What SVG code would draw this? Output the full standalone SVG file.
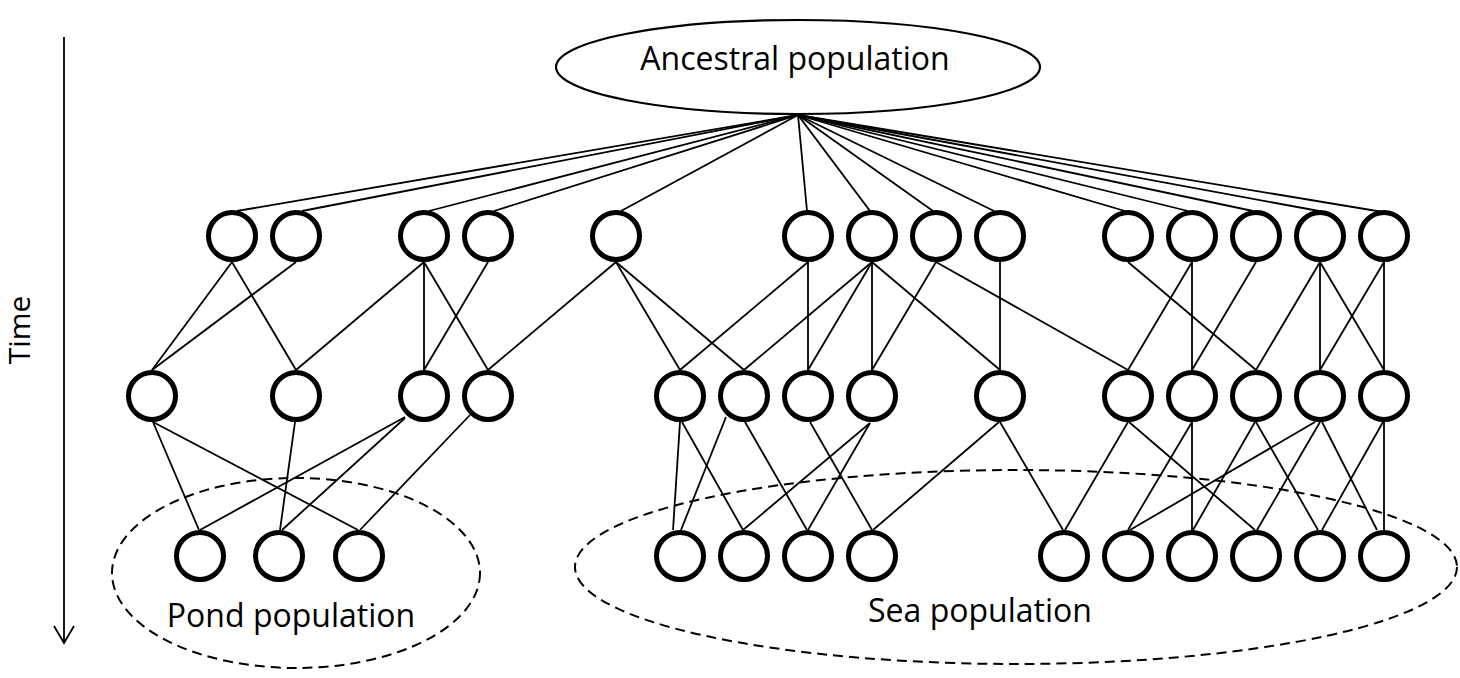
<svg xmlns="http://www.w3.org/2000/svg" width="1460" height="678" viewBox="0 0 1460 678">
<style>
.n{fill:#fff;stroke:#000;stroke-width:5}
.c line{stroke:#000;stroke-width:1.8}
.d{fill:none;stroke:#000;stroke-width:2;stroke-dasharray:10 6}
.t{font-family:"Open Sans","Liberation Sans",sans-serif;font-size:32px;fill:#000;text-anchor:middle}
</style>
<rect width="1460" height="678" fill="#fff"/>
<g id="time-axis">
<line x1="64" y1="37" x2="64" y2="643" stroke="#000" stroke-width="1.8"/>
<polyline points="54,626 64,643 74,626" fill="none" stroke="#000" stroke-width="1.8"/>
<text class="t" transform="translate(30,330) rotate(-90)" style="font-size:30px">Time</text>
</g>
<g id="pond-population">
<ellipse class="d" cx="296" cy="573" rx="184" ry="95"/>
<text class="t" x="291" y="627">Pond population</text>
</g>
<g id="sea-population">
<ellipse class="d" cx="1016" cy="567" rx="441" ry="97"/>
<text class="t" x="980" y="622">Sea population</text>
</g>
<g id="connectors" class="c">
<line x1="798" y1="115" x2="237" y2="211"/>
<line x1="798" y1="115" x2="302" y2="211"/>
<line x1="798" y1="115" x2="429" y2="211"/>
<line x1="798" y1="115" x2="494" y2="211"/>
<line x1="798" y1="115" x2="621" y2="211"/>
<line x1="798" y1="115" x2="807" y2="211"/>
<line x1="798" y1="115" x2="870" y2="211"/>
<line x1="798" y1="115" x2="933" y2="211"/>
<line x1="798" y1="115" x2="994" y2="211"/>
<line x1="798" y1="115" x2="1125" y2="211"/>
<line x1="798" y1="115" x2="1188" y2="211"/>
<line x1="798" y1="115" x2="1253" y2="211"/>
<line x1="798" y1="115" x2="1319" y2="211"/>
<line x1="798" y1="115" x2="1395" y2="214"/>
<line x1="232" y1="262" x2="152" y2="370"/>
<line x1="232" y1="262" x2="296" y2="370"/>
<line x1="296" y1="262" x2="152" y2="370"/>
<line x1="424" y1="262" x2="296" y2="370"/>
<line x1="424" y1="262" x2="424" y2="370"/>
<line x1="424" y1="262" x2="488" y2="370"/>
<line x1="488" y1="262" x2="424" y2="370"/>
<line x1="616" y1="262" x2="488" y2="370"/>
<line x1="616" y1="262" x2="680" y2="370"/>
<line x1="616" y1="262" x2="744" y2="370"/>
<line x1="808" y1="262" x2="680" y2="370"/>
<line x1="808" y1="262" x2="808" y2="370"/>
<line x1="872" y1="262" x2="744" y2="370"/>
<line x1="872" y1="262" x2="808" y2="370"/>
<line x1="872" y1="262" x2="872" y2="370"/>
<line x1="872" y1="262" x2="1000" y2="370"/>
<line x1="936" y1="262" x2="872" y2="370"/>
<line x1="936" y1="262" x2="1128" y2="370"/>
<line x1="1000" y1="262" x2="1000" y2="370"/>
<line x1="1128" y1="262" x2="1256" y2="370"/>
<line x1="1192" y1="262" x2="1128" y2="370"/>
<line x1="1192" y1="262" x2="1192" y2="370"/>
<line x1="1256" y1="262" x2="1192" y2="370"/>
<line x1="1320" y1="262" x2="1256" y2="370"/>
<line x1="1320" y1="262" x2="1320" y2="370"/>
<line x1="1320" y1="262" x2="1384" y2="370"/>
<line x1="1384" y1="262" x2="1320" y2="370"/>
<line x1="1384" y1="262" x2="1384" y2="370"/>
<line x1="153" y1="422" x2="199" y2="530"/>
<line x1="153" y1="422" x2="358" y2="530"/>
<line x1="295" y1="422" x2="280" y2="530"/>
<line x1="405" y1="417" x2="200" y2="530"/>
<line x1="405" y1="418" x2="282" y2="530"/>
<line x1="470" y1="415" x2="360" y2="530"/>
<line x1="680" y1="422" x2="673" y2="530"/>
<line x1="682" y1="422" x2="743" y2="530"/>
<line x1="726" y1="417" x2="681" y2="530"/>
<line x1="745" y1="422" x2="807" y2="530"/>
<line x1="810" y1="422" x2="872" y2="530"/>
<line x1="870" y1="423" x2="743" y2="530"/>
<line x1="870" y1="423" x2="808" y2="530"/>
<line x1="999" y1="422" x2="873" y2="530"/>
<line x1="1000" y1="422" x2="1063" y2="530"/>
<line x1="1128" y1="422" x2="1065" y2="530"/>
<line x1="1129" y1="422" x2="1255" y2="530"/>
<line x1="1192" y1="422" x2="1128" y2="530"/>
<line x1="1192" y1="422" x2="1192" y2="530"/>
<line x1="1255" y1="422" x2="1193" y2="530"/>
<line x1="1256" y1="422" x2="1318" y2="530"/>
<line x1="1315" y1="422" x2="1130" y2="530"/>
<line x1="1320" y1="422" x2="1257" y2="530"/>
<line x1="1322" y1="422" x2="1377" y2="530"/>
<line x1="1383" y1="422" x2="1322" y2="530"/>
<line x1="1384" y1="422" x2="1384" y2="530"/>
</g>
<g id="ancestral-population">
<ellipse cx="798" cy="67" rx="242" ry="47" fill="#fff" stroke="#000" stroke-width="2.2"/>
<text class="t" x="795" y="70">Ancestral population</text>
</g>
<g id="top-row">
<circle id="t1" class="n" cx="232" cy="236" r="23.5"/>
<circle id="t2" class="n" cx="296" cy="236" r="23.5"/>
<circle id="t3" class="n" cx="424" cy="236" r="23.5"/>
<circle id="t4" class="n" cx="488" cy="236" r="23.5"/>
<circle id="t5" class="n" cx="616" cy="236" r="23.5"/>
<circle id="t6" class="n" cx="808" cy="236" r="23.5"/>
<circle id="t7" class="n" cx="872" cy="236" r="23.5"/>
<circle id="t8" class="n" cx="936" cy="236" r="23.5"/>
<circle id="t9" class="n" cx="1000" cy="236" r="23.5"/>
<circle id="t10" class="n" cx="1128" cy="236" r="23.5"/>
<circle id="t11" class="n" cx="1192" cy="236" r="23.5"/>
<circle id="t12" class="n" cx="1256" cy="236" r="23.5"/>
<circle id="t13" class="n" cx="1320" cy="236" r="23.5"/>
<circle id="t14" class="n" cx="1384" cy="236" r="23.5"/>
</g>
<g id="middle-row">
<circle id="m1" class="n" cx="152" cy="396" r="23.5"/>
<circle id="m2" class="n" cx="296" cy="396" r="23.5"/>
<circle id="m3" class="n" cx="424" cy="396" r="23.5"/>
<circle id="m4" class="n" cx="488" cy="396" r="23.5"/>
<circle id="m5" class="n" cx="680" cy="396" r="23.5"/>
<circle id="m6" class="n" cx="744" cy="396" r="23.5"/>
<circle id="m7" class="n" cx="808" cy="396" r="23.5"/>
<circle id="m8" class="n" cx="872" cy="396" r="23.5"/>
<circle id="m9" class="n" cx="1000" cy="396" r="23.5"/>
<circle id="m10" class="n" cx="1128" cy="396" r="23.5"/>
<circle id="m11" class="n" cx="1192" cy="396" r="23.5"/>
<circle id="m12" class="n" cx="1256" cy="396" r="23.5"/>
<circle id="m13" class="n" cx="1320" cy="396" r="23.5"/>
<circle id="m14" class="n" cx="1384" cy="396" r="23.5"/>
</g>
<g id="bottom-row">
<circle id="b1" class="n" cx="200" cy="556" r="23.5"/>
<circle id="b2" class="n" cx="279" cy="556" r="23.5"/>
<circle id="b3" class="n" cx="359" cy="556" r="23.5"/>
<circle id="b4" class="n" cx="680" cy="556" r="23.5"/>
<circle id="b5" class="n" cx="744" cy="556" r="23.5"/>
<circle id="b6" class="n" cx="808" cy="556" r="23.5"/>
<circle id="b7" class="n" cx="872" cy="556" r="23.5"/>
<circle id="b8" class="n" cx="1064" cy="556" r="23.5"/>
<circle id="b9" class="n" cx="1128" cy="556" r="23.5"/>
<circle id="b10" class="n" cx="1192" cy="556" r="23.5"/>
<circle id="b11" class="n" cx="1256" cy="556" r="23.5"/>
<circle id="b12" class="n" cx="1320" cy="556" r="23.5"/>
<circle id="b13" class="n" cx="1384" cy="556" r="23.5"/>
</g>
</svg>
